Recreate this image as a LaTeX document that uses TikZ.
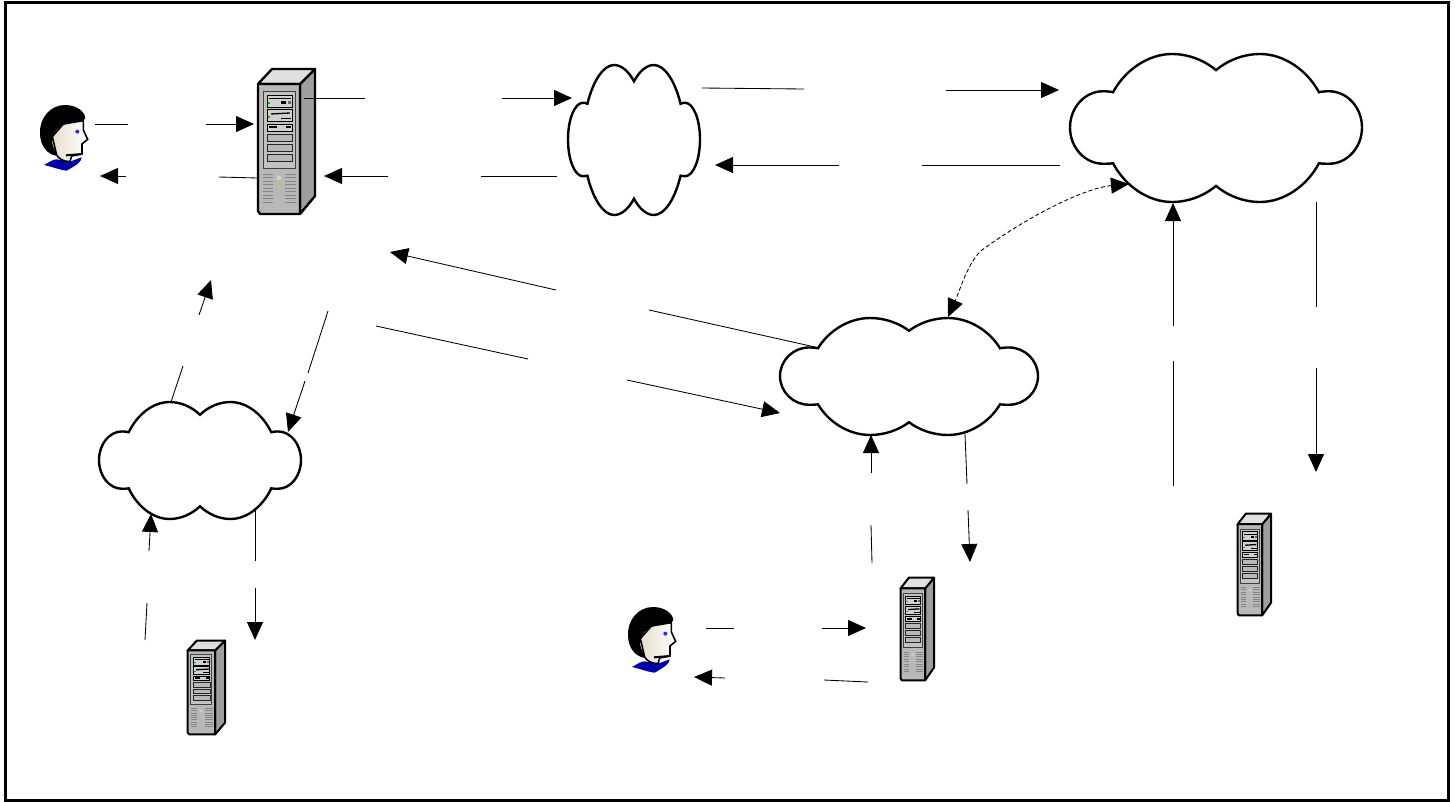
\documentclass[tikz,border=0pt]{standalone}
\usetikzlibrary{arrows.meta}
\definecolor{srvfront}{gray}{0.72}
\definecolor{srvside}{gray}{0.62}
\definecolor{srvtop}{gray}{0.88}
\definecolor{srvpanel}{gray}{0.76}
\definecolor{srvbay}{gray}{0.82}
\definecolor{srvvent}{gray}{0.52}
\definecolor{shirt}{RGB}{0,0,170}
\definecolor{skin}{RGB}{232,222,206}
\tikzset{
  frame/.style={draw=black,line width=3pt},
  cloudline/.style={draw=black,fill=white,line width=2.4pt},
  wire/.style={draw=black,line width=0.85pt},
  tip/.style={-{Triangle[length=18pt,width=16pt]}},
  bothtips/.style={{Triangle[length=18pt,width=16pt]}-{Triangle[length=18pt,width=16pt]}},
  srvline/.style={draw=black,line width=#1,line join=round},
  srvline/.default=1.4pt
}
% name, left, top, width, height
\newcommand{\mycloud}[5]{%
  \node[minimum width=#4pt,minimum height=#5pt,inner sep=0pt] (#1) at ({#2+#4/2},{#3+#5/2}) {};
  \begin{scope}[shift={(#2,#3)},xscale={#4/292},yscale={#5/147}]
    \path[cloudline] (43,38) .. controls (40,37.2) and (36,37) .. (33,37)
      .. controls (15,37) and (0,53) .. (0,73)
      .. controls (0,93) and (15,109) .. (33,109)
      .. controls (36,109) and (40,109) .. (43,108.5)
      .. controls (55,131) and (78,147) .. (102,147)
      .. controls (118,147) and (134,141) .. (146,131)
      .. controls (158,141) and (174,147) .. (190,147)
      .. controls (214,147) and (237,131) .. (249,108.5)
      .. controls (252,109) and (256,109) .. (259,109)
      .. controls (277,109) and (292,93) .. (292,73)
      .. controls (292,53) and (277,37) .. (259,37)
      .. controls (256,37) and (252,37.2) .. (249,38)
      .. controls (237,16) and (214,0) .. (190,0)
      .. controls (174,0) and (158,6) .. (146,16)
      .. controls (134,6) and (118,0) .. (102,0)
      .. controls (78,0) and (55,16) .. (43,38) -- cycle;
  \end{scope}}
% name, left, top, width, height, line width
\newcommand{\myserver}[6]{%
  \node[minimum width=#4pt,minimum height=#5pt,inner sep=0pt] (#1) at ({#2+#4/2},{#3+#5/2}) {};
  \begin{scope}[shift={(#2,#3)},xscale={#4/58},yscale={#5/147}]
    \path[srvline=#6,fill=srvside] (43,16) -- (58,1) -- (58,128) -- (43,146) -- cycle;
    \path[srvline=#6,fill=srvtop] (1,16) -- (15,1) -- (58,1) -- (43,16) -- cycle;
    \path[srvline=#6,fill=srvfront] (1,16) -- (43,16) -- (43,146) -- (3,146) -- (1,143) -- cycle;
    \path[draw=black!75,line width=1pt,fill=srvpanel] (6,23) rectangle (38,100);
    \path[draw=black,line width=1pt,fill=srvbay] (10,27) rectangle (35,39);
    \path[draw=black,line width=1pt,fill=srvbay] (10,41) rectangle (35,53);
    \path[draw=black,line width=1pt,fill=srvbay] (10,56) rectangle (35,63);
    \foreach \ya/\yb in {66/73,76/83,86/93}
      \path[draw=black!85,line width=0.8pt,fill=srvfront] (10,\ya) rectangle (35,\yb);
    \path[draw=black,line width=0.8pt] (12,30) -- (34,30);
    \fill[black] (24,33) rectangle (29,36);
    \fill[black!60] (31,33) rectangle (34,36);
    \path[draw=black,line width=1.3pt] (14,46) -- (33,45);
    \path[draw=black,line width=0.9pt] (24,50) -- (34,50);
    \path[draw=black,line width=1.5pt] (12,59) -- (20,59) (29,59) -- (34,59);
    \fill[green!75!black] (11,34) rectangle (13,36);
    \fill[green!75!black] (11,48) rectangle (13,50);
    \foreach \yy in {106,109.5,...,137} {
      \path[draw=srvvent,line width=1pt] (6,\yy) -- (16,\yy);
      \path[draw=srvvent,line width=1pt] (28,\yy) -- (39,\yy);
    }
    \fill[srvbay] (22,110) circle (2.5);
    \fill[yellow!80!green] (22,118) circle (1.4);
  \end{scope}}
% name, dx, dy (drawn in 3x units around the first figure)
\newcommand{\myperson}[3]{%
  \node[minimum width=48pt,minimum height=67pt,inner sep=0pt] (#1) at ({#2+64},{#3+138}) {};
  \begin{scope}[shift={(#2+20,#3+50)},x=0.3333pt,y=-0.3333pt]
    \path[fill=shirt] (72,345) .. controls (90,335) and (100,328) .. (110,328) -- (150,335)
       -- (185,322) .. controls (185,335) and (170,345) .. (140,362) .. controls (120,360) and (95,350) .. (72,345) -- cycle;
    \path[left color=skin,right color=white,draw=black,line width=1.6pt] (97,260) -- (130,222) -- (190,212) -- (190,240) -- (203,268) -- (186,282)
       -- (186,312) -- (155,318) -- (150,335) .. controls (130,335) and (115,325) .. (110,315) -- cycle;
    \path[fill=black] (112,318) .. controls (85,315) and (60,290) .. (60,250)
       .. controls (58,205) and (90,165) .. (135,165) .. controls (170,165) and (195,185) .. (196,205)
       .. controls (190,218) and (150,212) .. (125,228) .. controls (105,240) and (92,260) .. (97,280)
       .. controls (100,295) and (108,305) .. (112,318) -- cycle;
    \path[draw=black,line width=2pt] (138,316) -- (186,312);
    \path[fill=blue!85!white] (172,245) circle (6);
  \end{scope}}
% name, four points: two solid pieces with an empty stretch between them
\newcommand{\mylink}[5]{%
  \coordinate (#1a) at (#2); \coordinate (#1b) at (#3);
  \coordinate (#1c) at (#4); \coordinate (#1d) at (#5);
  \draw[wire] (#1a) -- (#1b);
  \draw[wire,tip] (#1c) -- (#1d);}
\begin{document}
\begin{tikzpicture}[x=1pt,y=-1pt]
\useasboundingbox (0,0) rectangle (1455,801);
\path[fill=white] (0,0) rectangle (1455,801);
\node[frame,minimum width=1443pt,minimum height=798pt,inner sep=0pt,outer sep=0pt] (border) at (726.5,401) {};

\mycloud{cloudA}{568}{65}{132}{150}
\mycloud{cloudB}{1070}{54}{292}{148}
\mycloud{cloudC}{780}{318}{258}{117}
\mycloud{cloudD}{99}{402}{202}{117}

\myserver{srvA}{257}{68}{58}{147}{2.4pt}
\myserver{srvB}{900}{577}{34}{104}{2pt}
\myserver{srvC}{1237}{513}{34}{103}{2pt}
\myserver{srvD}{187}{640}{38}{95}{2pt}

\myperson{userA}{0}{0}
\myperson{userB}{588}{502}

\mylink{la}{95,124}{128,124}{206,124}{254,124}
\mylink{lb}{258,178}{219,177}{126,176}{100,176}
\mylink{lc}{304,98}{365,98}{502,98}{572,98}
\mylink{ld}{557,176}{481,176}{388,176}{324,176}
\mylink{le}{702,88}{804,89}{946,90}{1059,90}
\mylink{lf}{1060,165}{922,165}{839,165}{715,165}
\mylink{lg}{815,347}{649,310}{556,290}{390,252}
\mylink{lh}{376,326}{528,359}{627,380}{780,413}
\mylink{li}{328,311}{308,373}{305,381}{288,432}
\mylink{lj}{171,402}{183,366}{199,315}{211,280}
\mylink{lk}{145,640}{147,603}{149,551}{151,514}
\mylink{ll}{255,509}{255,561}{255,588}{255,640}
\mylink{lm}{872,563}{871,525}{871,473}{871,435}
\mylink{ln}{965,434}{967,484}{968,510}{970,562}
\mylink{lo}{1173,486}{1173,361}{1173,326}{1173,203}
\mylink{lp}{1316,202}{1316,307}{1316,368}{1316,472}
\mylink{lq}{706,628}{734,628}{822,628}{866,628}
\mylink{lr}{868,682}{824,680}{725,678}{694,677}

\coordinate (dashA) at (1129,184);
\coordinate (dashB) at (948,317);
\draw[wire,dash pattern=on 4pt off 2.5pt,bothtips] (dashA)
  .. controls (1085,188) and (1030,215) .. (982,250)
  .. controls (968,262) and (960,290) .. (dashB);
\end{tikzpicture}
\end{document}
